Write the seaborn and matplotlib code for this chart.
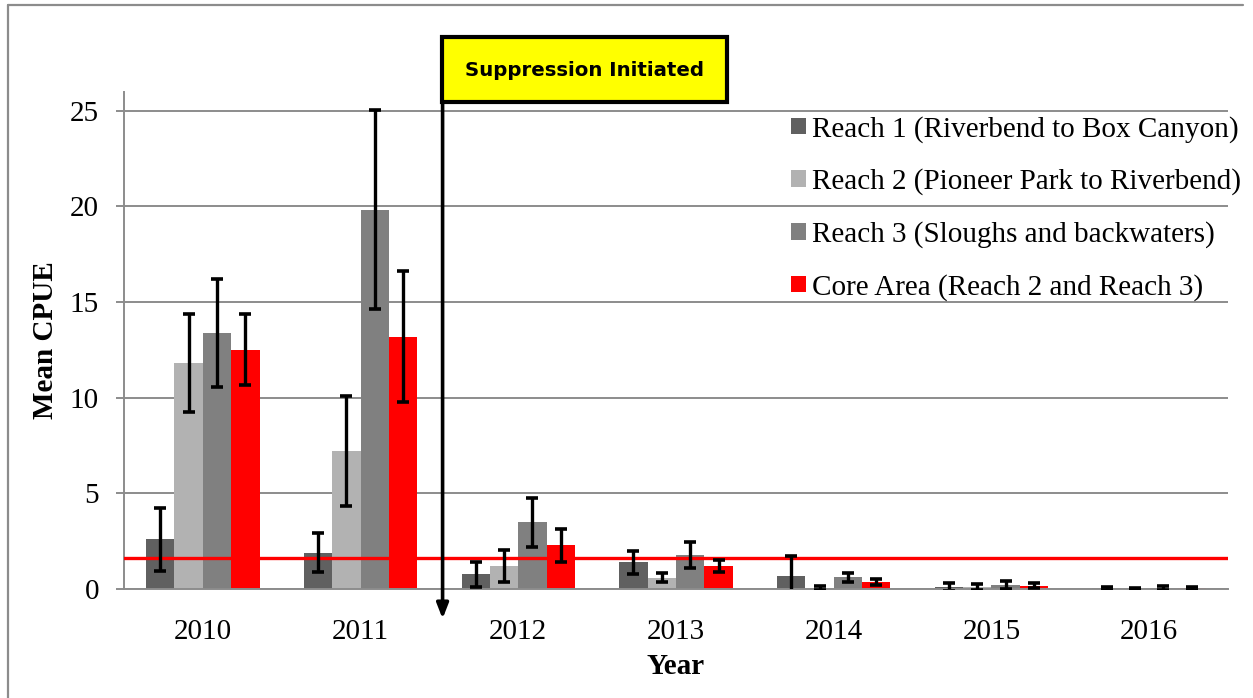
import numpy as np
import pandas as pd
import matplotlib
matplotlib.use("Agg")
import matplotlib.pyplot as plt
from matplotlib.patches import Rectangle
from matplotlib.lines import Line2D
import seaborn as sns

years = ["2010", "2011", "2012", "2013", "2014", "2015", "2016"]
series = ["Reach 1 (Riverbend to Box Canyon)",
          "Reach 2 (Pioneer Park to Riverbend)",
          "Reach 3 (Sloughs and backwaters)",
          "Core Area (Reach 2 and Reach 3)"]
reach1 = [2.6, 1.9, 0.78, 1.39, 0.68, 0.1, 0.03]
reach2 = [11.8, 7.22, 1.2, 0.59, 0.05, 0.12, 0.02]
reach3 = [13.4, 19.82, 3.49, 1.78, 0.61, 0.22, 0.05]
core = [12.5, 13.2, 2.28, 1.2, 0.35, 0.17, 0.04]
reach1_err = [1.65, 1.02, 0.65, 0.6, 1.06, 0.2, 0.08]
reach2_err = [2.57, 2.86, 0.86, 0.24, 0.1, 0.15, 0.04]
reach3_err = [2.83, 5.2, 1.28, 0.68, 0.22, 0.2, 0.1]
core_err = [1.86, 3.4, 0.85, 0.32, 0.15, 0.12, 0.08]
threshold = 1.62
colors = ["#606060", "#b2b2b2", "#808080", "#ff0000"]

values = [reach1, reach2, reach3, core]
errors = [reach1_err, reach2_err, reach3_err, core_err]
df = pd.DataFrame({
    "Year": years * 4,
    "Series": [s for s in series for _ in years],
    "CPUE": sum(values, []),
})

sns.set_style("white")
plt.rcParams['font.family'] = ['Liberation Serif', 'DejaVu Serif']
plt.rcParams['text.color'] = 'black'
plt.rcParams['axes.labelcolor'] = 'black'
plt.rcParams['xtick.labelcolor'] = 'black'
plt.rcParams['ytick.labelcolor'] = 'black'

fig = plt.figure(figsize=(12.53, 6.98), dpi=100)
ax = fig.add_axes([124 / 1253, 1 - 589 / 698, (1228 - 124) / 1253, (589 - 91.7) / 698])

sns.barplot(data=df, x="Year", y="CPUE", hue="Series", hue_order=series,
            palette=colors, width=0.72, gap=0, errorbar=None, saturation=1,
            linewidth=0, ax=ax, zorder=2)

for cont, err in zip(ax.containers, errors):
    xs = [p.get_x() + p.get_width() / 2 for p in cont.patches]
    hs = [p.get_height() for p in cont.patches]
    ax.errorbar(xs, hs, yerr=err, fmt="none", ecolor="black", elinewidth=2.4,
                capsize=4.5, capthick=2.6, zorder=4)

ax.axhline(threshold, color="#ff0000", lw=2.4, zorder=3)

ax.set_ylim(0, 26)
ax.set_xlim(-0.5, 6.5)
ax.set_yticks([0, 5, 10, 15, 20, 25])
ax.yaxis.grid(True, color="#8c8c8c", lw=1.4)
ax.set_axisbelow(True)
for s in ["top", "right"]:
    ax.spines[s].set_visible(False)
for s in ["left", "bottom"]:
    ax.spines[s].set_color("#8c8c8c")
    ax.spines[s].set_linewidth(1.4)
ax.tick_params(axis="y", left=True, length=6, width=1.4, color="#8c8c8c",
               labelsize=21, pad=12)
ax.tick_params(axis="x", bottom=False, labelsize=21, pad=18)
ax.set_xlabel("Year", fontsize=21, fontweight="bold", labelpad=6)
ax.set_ylabel("Mean CPUE", fontsize=21, fontweight="bold", labelpad=8)

leg = ax.legend(loc="upper left", bbox_to_anchor=(0.594, 0.975), frameon=False,
                fontsize=21, handlelength=0.5, handleheight=0.5,
                handletextpad=0.2, labelspacing=0.88, borderaxespad=0)
for h in leg.legend_handles:
    h.set_linewidth(0)

# suppression arrow and label box
ax.annotate("", xy=(1.52, -1.7), xytext=(1.52, 28.8),
            arrowprops=dict(arrowstyle="-|>,head_length=0.9,head_width=0.35",
                            color="black", lw=2.6), annotation_clip=False, zorder=5)
box = Rectangle((442 / 1253, 1 - 102 / 698), (727 - 442) / 1253, (102 - 37) / 698,
                transform=fig.transFigure, facecolor="#ffff00", edgecolor="black",
                lw=3, zorder=6)
fig.patches.append(box)
fig.text((442 + 727) / 2 / 1253, 1 - 70 / 698, "Suppression Initiated",
         ha="center", va="center", fontsize=14.2, fontweight="bold",
         family="DejaVu Sans", color="black", zorder=7)

# outer chart border
fig.add_artist(Line2D([8 / 1253, 8 / 1253], [0, 1 - 5 / 698], color="#8c8c8c", lw=1.6))
fig.add_artist(Line2D([8 / 1253, 1243 / 1253], [1 - 5 / 698, 1 - 5 / 698], color="#8c8c8c", lw=1.6))

fig.savefig("out.png", dpi=100)
